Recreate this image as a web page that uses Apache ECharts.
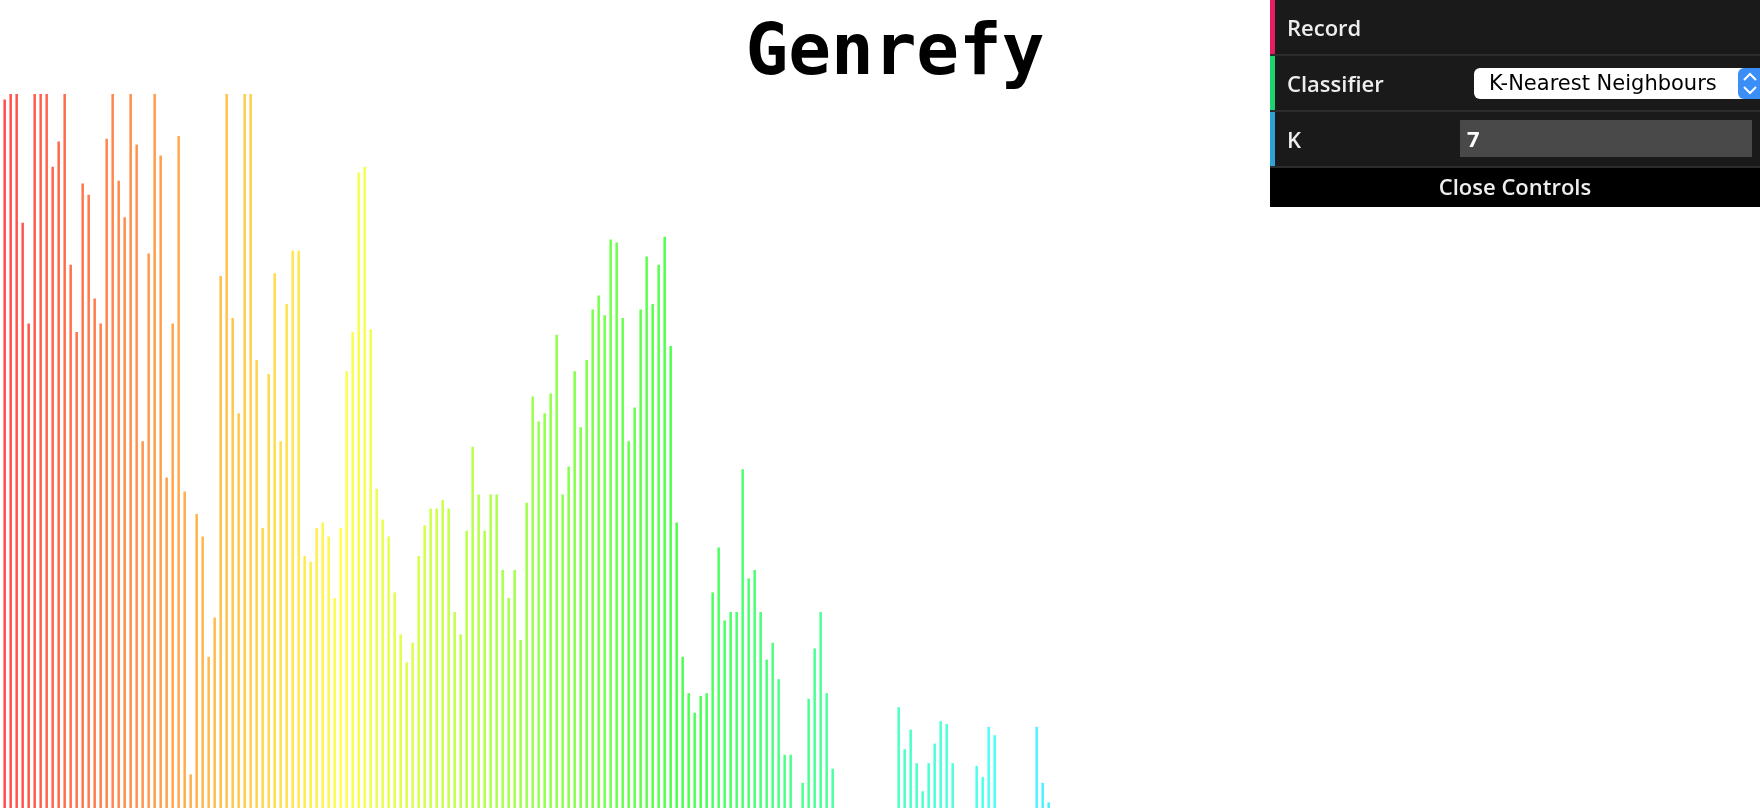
<!DOCTYPE html>
<html>
<head>
<meta charset="utf-8">
<title>Genrefy</title>
<script src="https://cdn.jsdelivr.net/npm/echarts@6/dist/echarts.min.js"></script>
<style>
html, body { margin: 0; padding: 0; background: #fff; overflow: hidden; }
#chart { width: 1760px; height: 808px; }
</style>
</head>
<body>
<div id="chart"></div>
<script>
// spectrum levels per frequency bin (0-255, 255 = clipped at the top)
var levels = [
    253, 255, 255, 209, 173, 255, 255, 255, 229, 238,
    255, 194, 170, 223, 219, 182, 173, 239, 255, 224,
    211, 255, 237, 131, 198, 255, 233, 118, 173, 240,
    113, 12, 105, 97, 54, 68, 190, 255, 175, 141,
    255, 255, 160, 100, 155, 191, 131, 180, 199, 199,
    90, 88, 100, 102, 97, 75, 100, 156, 170, 227,
    229, 171, 114, 103, 97, 77, 62, 52, 59, 90,
    101, 107, 107, 110, 107, 70, 62, 99, 129, 112,
    99, 112, 112, 85, 75, 85, 60, 109, 147, 138,
    141, 148, 169, 112, 122, 156, 136, 160, 178, 183,
    176, 203, 202, 175, 131, 143, 178, 197, 180, 194,
    204, 165, 102, 54, 41, 34, 40, 41, 77, 93,
    67, 70, 70, 121, 82, 85, 70, 53, 59, 46,
    19, 19, 0, 9, 39, 57, 70, 41, 14, 0,
    0, 0, 0, 0, 0, 0, 0, 0, 0, 36,
    21, 28, 16, 6, 16, 23, 31, 30, 16, 0,
    0, 0, 15, 11, 29, 26, 0, 0, 0, 0,
    0, 0, 29, 9, 2
];
var bins = [];
for (var i = 0; i < levels.length; i++) {
    bins.push(String(i + 1));
}

var appTitle = 'Genrefy';
var controlLabels = ['Record', 'Classifier', 'K'];
var classifierName = 'K-Nearest Neighbours';
var kValue = '7';
var closeLabel = 'Close Controls';

var myChart = echarts.init(document.getElementById('chart'), null, {renderer: 'canvas'});

var labelFont = {fontFamily: 'Open Sans', fontWeight: 600, fontSize: 22};
var stripColors = ['#e61d5f', '#1ed36f', '#2fa1d6'];
var rowTop = [0, 56, 112];

var graphics = [
    {
        type: 'text', x: 895, y: 56,
        style: {
            text: appTitle, fill: '#000',
            fontFamily: 'DejaVu Sans Mono', fontWeight: 'bold', fontSize: 71,
            align: 'center', verticalAlign: 'middle'
        }
    },
    // controls panel
    {type: 'rect', shape: {x: 1270, y: 0, width: 490, height: 168}, style: {fill: '#1a1a1a'}}
];
for (var r = 0; r < controlLabels.length; r++) {
    graphics.push({type: 'rect', shape: {x: 1270, y: rowTop[r], width: 5, height: 54}, style: {fill: stripColors[r]}});
    graphics.push({type: 'rect', shape: {x: 1270, y: rowTop[r] + 54, width: 490, height: 2}, style: {fill: '#2c2c2c'}});
    graphics.push({
        type: 'text', x: 1287, y: rowTop[r] + 30,
        style: {
            text: controlLabels[r], fill: '#eee',
            fontFamily: labelFont.fontFamily, fontWeight: labelFont.fontWeight, fontSize: labelFont.fontSize,
            verticalAlign: 'middle'
        }
    });
}
graphics.push(
    {type: 'rect', shape: {x: 1474, y: 68, width: 300, height: 31, r: 6}, style: {fill: '#fff'}},
    {type: 'rect', shape: {x: 1738, y: 68, width: 30, height: 31, r: 6}, style: {fill: '#3a8ef6'}},
    {type: 'polyline', shape: {points: [[1744, 80], [1750, 74], [1756, 80]]}, style: {stroke: '#fff', lineWidth: 2, fill: null}},
    {type: 'polyline', shape: {points: [[1744, 87], [1750, 93], [1756, 87]]}, style: {stroke: '#fff', lineWidth: 2, fill: null}},
    {
        type: 'text', x: 1489, y: 85,
        style: {text: classifierName, fill: '#000', fontFamily: 'DejaVu Sans', fontSize: 21, verticalAlign: 'middle'}
    },
    {type: 'rect', shape: {x: 1460, y: 120, width: 292, height: 37}, style: {fill: '#494949'}},
    {
        type: 'text', x: 1467, y: 141,
        style: {text: kValue, fill: '#fff', fontFamily: labelFont.fontFamily, fontWeight: 'bold', fontSize: labelFont.fontSize, verticalAlign: 'middle'}
    },
    {type: 'rect', shape: {x: 1270, y: 168, width: 490, height: 39}, style: {fill: '#000'}},
    {
        type: 'text', x: 1515, y: 189,
        style: {
            text: closeLabel, fill: '#eee',
            fontFamily: labelFont.fontFamily, fontWeight: labelFont.fontWeight, fontSize: labelFont.fontSize,
            align: 'center', verticalAlign: 'middle'
        }
    }
);

var option = {
    animation: false,
    backgroundColor: '#fff',
    grid: {left: 1.67, top: 94, width: 1050, bottom: 0, containLabel: false},
    xAxis: {
        type: 'category',
        data: bins,
        show: false,
        boundaryGap: true
    },
    yAxis: {
        type: 'value',
        min: 0,
        max: 255,
        show: false,
        splitLine: {show: false}
    },
    series: [{
        type: 'bar',
        data: levels,
        barWidth: 2.5,
        silent: true,
        itemStyle: {
            color: function (p) {
                // hue sweeps red -> yellow -> green -> cyan along the bins
                return 'hsl(' + (p.dataIndex * 1.07).toFixed(1) + ', 100%, 65%)';
            }
        }
    }],
    graphic: graphics
};

if (option)
    myChart.setOption(option);
</script>
</body>
</html>
